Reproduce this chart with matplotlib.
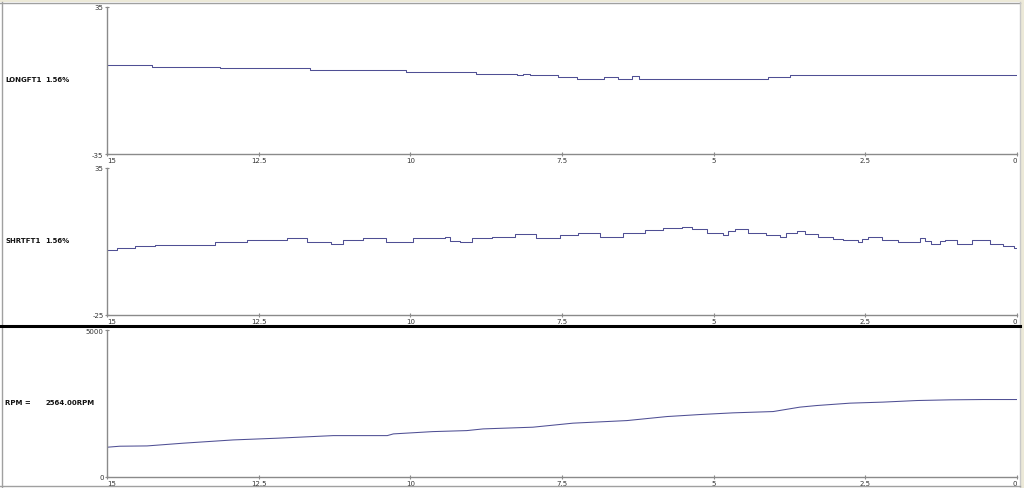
import matplotlib
matplotlib.use('Agg')
import matplotlib.pyplot as plt
from matplotlib.lines import Line2D
from matplotlib.patches import Rectangle

# time axis (seconds ago) and logged values
long_t = [15, 14.26, 13.13, 11.65, 10.07, 8.92, 8.24, 8.14, 8.03, 7.57, 7.25, 6.81,
          6.58, 6.35, 6.23, 4.10, 3.74, 0]
long_v = [7.5, 6.6, 5.8, 4.9, 3.9, 3.2, 2.6, 3.2, 2.6, 1.7, 0.9, 1.7,
          0.9, 2.0, 0.9, 1.7, 2.6, 2.6]

short_t = [15.00, 14.84, 14.54, 14.21, 13.22, 12.70, 12.04, 11.71, 11.30, 11.11, 10.78,
           10.40, 9.96, 9.43, 9.35, 9.18, 8.98, 8.65, 8.27, 7.93, 7.53, 7.24, 6.87,
           6.50, 6.13, 5.84, 5.53, 5.36, 5.11, 4.85, 4.76, 4.65, 4.43, 4.13, 3.91,
           3.81, 3.63, 3.49, 3.28, 3.03, 2.87, 2.62, 2.56, 2.46, 2.23, 1.96, 1.60,
           1.52, 1.41, 1.27, 1.19, 0.99, 0.75, 0.45, 0.23, 0.05, 0.0]
short_v = [1.5, 2.3, 3.0, 3.6, 4.6, 5.4, 6.4, 4.6, 3.8, 5.4, 6.4,
           4.6, 6.2, 6.8, 5.3, 4.6, 6.2, 6.8, 7.9, 6.4, 7.7, 8.3, 6.9,
           8.3, 9.6, 10.3, 10.7, 9.9, 8.4, 7.7, 9.4, 9.9, 8.4, 7.7, 6.8,
           8.4, 9.1, 8.0, 6.8, 6.1, 5.4, 4.6, 6.1, 6.9, 5.6, 4.6, 6.2,
           5.3, 3.8, 5.3, 5.6, 3.8, 5.6, 3.9, 3.0, 2.2, 2.2]

rpm_t = [15, 14.79, 14.34, 13.75, 12.92, 12.20, 11.27, 10.38, 10.28, 9.63, 9.07, 8.80,
         7.98, 7.32, 6.43, 5.77, 5.23, 4.68, 4.02, 3.58, 3.30, 2.75, 2.21, 1.65,
         1.10, 0.56, 0]
rpm_v = [1012, 1047, 1057, 1149, 1261, 1319, 1408, 1408, 1466, 1544, 1578, 1636,
         1694, 1831, 1919, 2056, 2124, 2182, 2226, 2376, 2431, 2512, 2547, 2601,
         2625, 2635, 2635]

xticks = [15, 12.5, 10, 7.5, 5, 2.5, 0]
xtick_labels = ['15', '12.5', '10', '7.5', '5', '2.5', '0']

panels = [
    ('LONGFT1', '1.56%', (35, -35)),
    ('SHRTFT1', '1.56%', (35, -25)),
    ('RPM =', '2564.00RPM', (5000, 0)),
]

W, H = 1024, 489
line_col = '#4f4f94'
axis_col = '#8a8a8a'

fig = plt.figure(figsize=(W / 100, H / 100), dpi=100)
fig.patch.set_facecolor('white')

# axes boxes in pixels: (top, bottom)
boxes = [(8, 155), (169, 315.5), (331, 478)]
left_px, right_px = 107, 1017

axes = []
for (top, bot), (name, val, (ymax, ymin)) in zip(boxes, panels):
    ax = fig.add_axes([left_px / W, 1 - bot / H, (right_px - left_px) / W, (bot - top) / H])
    ax.set_xlim(15, 0)
    ax.set_ylim(ymin, ymax)
    for s in ['top', 'right']:
        ax.spines[s].set_visible(False)
    for s in ['left', 'bottom']:
        ax.spines[s].set_color(axis_col)
        ax.spines[s].set_linewidth(1.0)
    ax.set_xticks(xticks)
    ax.set_xticklabels(xtick_labels)
    ax.set_yticks([ymin, ymax])
    ax.set_yticklabels([str(ymin), str(ymax)])
    ax.tick_params(axis='both', colors=axis_col, labelcolor='#333333', labelsize=5,
                   length=3, width=0.8, direction='inout', pad=1)
    tl = ax.get_xticklabels()
    tl[0].set_ha('left')
    tl[-1].set_ha('right')
    ymid = 1 - (top + (bot - top) * 0.49) / H
    fig.text(5 / W, ymid, name, fontsize=5, fontweight='bold', color='#111111', va='center')
    fig.text(45 / W, ymid, val, fontsize=5, fontweight='bold', color='#111111', va='center')
    axes.append(ax)

axes[0].step(long_t, long_v, where='post', color=line_col, lw=0.75)
axes[1].step(short_t, short_v, where='post', color=line_col, lw=0.75)
axes[2].plot(rpm_t, rpm_v, color=line_col, lw=0.75)

# window frame and separator
fig.add_artist(Rectangle((0, 1 - 3 / H), 1, 3 / H, transform=fig.transFigure,
                         color='#ece9d8', lw=0))
fig.add_artist(Rectangle((1020 / W, 0), 4 / W, 1, transform=fig.transFigure,
                         color='#ece9d8', lw=0))
fig.add_artist(Line2D([2 / W, 2 / W], [0, 1 - 3 / H], transform=fig.transFigure,
                      color='#a0a0a0', lw=1))
fig.add_artist(Line2D([0, 1020 / W], [1 - 4 / H, 1 - 4 / H], transform=fig.transFigure,
                      color='#a0a0a0', lw=1))
fig.add_artist(Line2D([1020 / W, 1020 / W], [0, 1 - 3 / H], transform=fig.transFigure,
                      color='#c8c8c8', lw=1))
fig.add_artist(Line2D([0, 1020 / W], [1 - 327 / H, 1 - 327 / H], transform=fig.transFigure,
                      color='black', lw=2.2))
fig.add_artist(Line2D([0, 1020 / W], [1 - 487 / H, 1 - 487 / H], transform=fig.transFigure,
                      color='#a0a0a0', lw=1))

fig.savefig('out.png', dpi=100, facecolor=fig.get_facecolor())
